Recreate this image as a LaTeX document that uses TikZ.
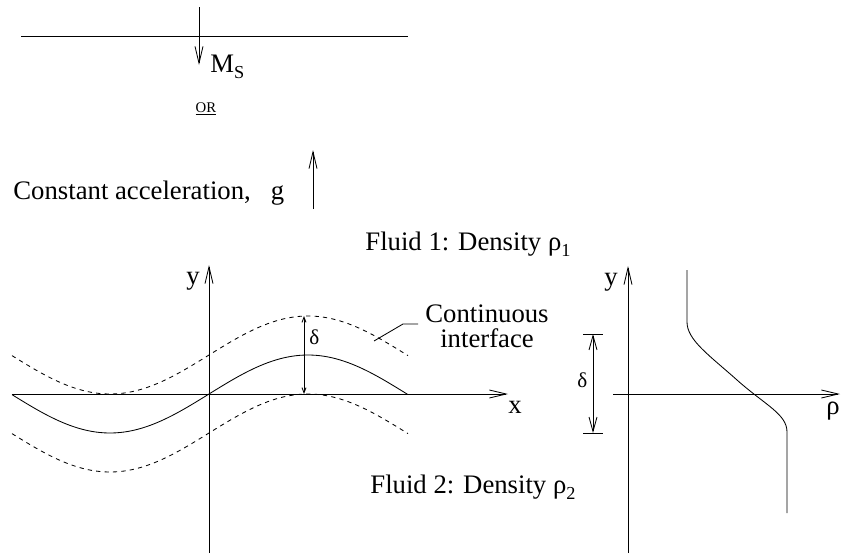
\documentclass[tikz,border=0pt]{standalone}
\usepackage{fontspec}
\setmainfont{Liberation Serif}
\usetikzlibrary{arrows.meta}
\newcommand{\lowsub}[1]{\raisebox{-0.55ex}{\fontsize{13}{13}\selectfont #1}}

\begin{document}
\begin{tikzpicture}[x=0.025cm,y=-0.025cm,line width=0.6pt,
        lbl/.style={inner sep=0pt,anchor=base west,font=\fontsize{19}{22}\selectfont},
        small/.style={inner sep=0pt,anchor=west,font=\fontsize{15}{17}\selectfont},
        stick/.style={-{Straight Barb[length=4.2mm,width=2mm]}},
        bothstick/.style={{Straight Barb[length=3.6mm,width=2mm]}-{Straight Barb[length=3.6mm,width=2mm]}},
        tinystick/.style={{Straight Barb[length=1.3mm,width=1mm]}-{Straight Barb[length=1.3mm,width=1mm]}},
        wave/.style={domain=12:408,samples=100,smooth}]
        \useasboundingbox (0,0) rectangle (841,559);
        \coordinate (LL) at (21,36);
        \coordinate (LR) at (408,36);
        \coordinate (MsTop) at (199,7);
        \coordinate (MsTip) at (199,65);
        \coordinate (gBot) at (313,209);
        \coordinate (gTop) at (313,150);
        \node[lbl] (Ms) at (210,72) {M\lowsub{S}};
        \node[inner sep=0pt,anchor=base,font=\fontsize{10.5}{12}\selectfont] (Or) at (206,112) {\underline{OR}};
        \node[lbl] (Acc) at (13,199) {Constant acceleration,~~~g};
        \node[lbl] (F1) at (365,250) {Fluid 1: Density ρ\lowsub{1}};
        \node[lbl] (F2) at (370,493) {Fluid 2: Density ρ\lowsub{2}};

        \draw (LL) -- (LR);
        \draw[stick] (MsTop) -- (MsTip);
        \draw[stick] (gBot) -- (gTop);

        \coordinate (Y1b) at (209,553);
        \coordinate (Y1t) at (209,265);
        \coordinate (X1l) at (12,394);
        \coordinate (X1r) at (508,394);
        \node[lbl] (y1) at (186,284) {y};
        \node[lbl] (x1) at (508,413) {x};
        \draw[stick] (Y1b) -- (Y1t);
        \draw[stick] (X1l) -- (X1r);
        \draw plot[wave] (\x,{394-39*sin((\x-209)/1.1)});
        \draw[dashed] plot[wave] (\x,{355-39*sin((\x-209)/1.1)});
        \draw[dashed] plot[wave] (\x,{433-39*sin((\x-209)/1.1)});

        \coordinate (D1t) at (304,316);
        \coordinate (D1b) at (304,394);
        \node[small] (d1) at (309,337) {δ};
        \draw[tinystick] (D1t) -- (D1b);

        \node[inner sep=0pt,anchor=north,align=center,font=\fontsize{19}{18}\selectfont] (Intf) at (487,304) {Continuous\\interface};
        \coordinate (Ls) at (418,324);
        \coordinate (Lk) at (403,324);
        \coordinate (Lt) at (374,341);
        \draw (Ls) -- (Lk) -- (Lt);

        \coordinate (Y2b) at (628,553);
        \coordinate (Y2t) at (628,266);
        \coordinate (X2l) at (613,394);
        \coordinate (X2r) at (840,394);
        \node[lbl] (y2) at (604,285) {y};
        \node[lbl] (rho) at (826,414) {ρ};
        \draw[stick] (Y2b) -- (Y2t);
        \draw[stick] (X2l) -- (X2r);
        \draw (687,270) -- (687,322) .. controls (687,340) and (709,355) .. (737,380) .. controls (765,405) and (787,414) .. (787,432) -- (787,513);

        \coordinate (D2t) at (593,334);
        \coordinate (D2b) at (593,433);
        \coordinate (T2a) at (583,334);
        \coordinate (T2b) at (603,334);
        \coordinate (T2c) at (583,433);
        \coordinate (T2d) at (603,433);
        \node[small] (d2) at (577,380) {δ};
        \draw[bothstick] (D2t) -- (D2b);
        \draw (T2a) -- (T2b);
        \draw (T2c) -- (T2d);
\end{tikzpicture}
\end{document}
